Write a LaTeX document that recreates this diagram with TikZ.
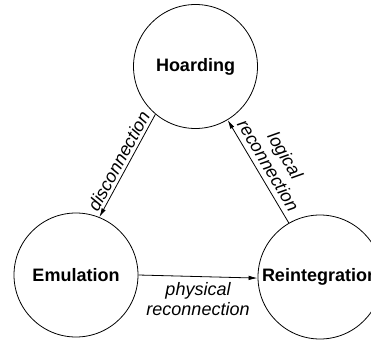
\documentclass[tikz,border=0pt]{standalone}
\usepackage{fontspec}
\setmainfont{Liberation Sans}
\usetikzlibrary{arrows.meta}
\begin{document}
\begin{tikzpicture}[x=1pt,y=-1pt,
    state/.style={shape=circle,draw=black,line width=0.8pt,minimum size=124pt,inner sep=0pt,
      font=\fontsize{18}{20}\selectfont\bfseries},
    trans/.style={-{Latex[length=9pt,width=4.5pt]},line width=0.8pt},
    lbl/.style={font=\fontsize{18}{19.5}\selectfont\itshape,align=center,inner sep=2pt}]
    \useasboundingbox (0,0) rectangle (371,339);

    \node[state] (hoard) at (195.5,66.5) {Hoarding};
    \node[state] (emul) at (76,275) {Emulation};
    \node[state] (reint) at (320,277) {Reintegration};

    \draw[trans] (hoard.230) -- node[lbl,sloped,above,inner sep=3pt] {disconnection} (emul.68);
    \draw[trans] (emul.0) -- node[lbl,below,inner sep=6pt] {physical\\reconnection} (reint.181);
    \draw[trans] (reint.120) -- node[lbl,sloped,above,inner sep=5pt] {logical\\reconnection} (hoard.301);

  \end{tikzpicture}
\end{document}
